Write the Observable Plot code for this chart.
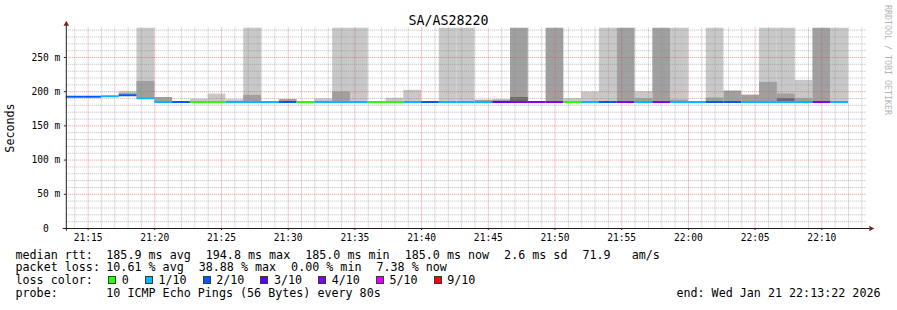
<!DOCTYPE html>
<html>
<head>
<meta charset="utf-8">
<script src="https://cdn.jsdelivr.net/npm/d3@7"></script>
<script src="https://cdn.jsdelivr.net/npm/@observablehq/plot@0.6"></script>
<style>
  html, body { margin: 0; padding: 0; background: #ffffff; }
  #wrap { position: relative; width: 897px; height: 310px; background: #ffffff; overflow: hidden;
          font-family: "DejaVu Sans Mono", monospace; color: #000; }
  #plot { position: absolute; left: 0; top: 0; }
  .abs { position: absolute; white-space: pre; }
  #title { left: 0; top: 14px; width: 897px; text-align: center; font-size: 13.3px; line-height: 13px; }
  #ylabel { left: 11.2px; top: 127.5px; font-size: 11.7px; line-height: 11.7px;
            transform: translate(-50%, -50%) rotate(-90deg); }
  #credit { left: 887.7px; top: 60px; font-size: 8.3px; line-height: 8.3px; color: #b4b4b4;
            transform: translate(-50%, -50%) rotate(90deg); }
  .lg { font-size: 11.7px; line-height: 12px; }
  .items { display: flex; gap: 15px; }
  .box { display: inline-block; width: 8px; height: 8px; box-sizing: border-box; border: 1px solid #3a3a3a; }
  .litem { position: absolute; display: flex; align-items: center; }
</style>
</head>
<body>
<div id="wrap">
  <div id="plot"></div>
</div>
<script>
// ---------------- data ----------------
const viewStart = "21:13:22";
const viewEnd = "22:13:22";
// step boundaries (80 s steps)
const boundaries = ["21:13:20","21:14:40","21:16:00","21:17:20","21:18:40","21:20:00","21:21:20","21:22:40","21:24:00","21:25:20","21:26:40","21:28:00","21:29:20","21:30:40","21:32:00","21:33:20","21:34:40","21:36:00","21:37:20","21:38:40","21:40:00","21:41:20","21:42:40","21:44:00","21:45:20","21:46:40","21:48:00","21:49:20","21:50:40","21:52:00","21:53:20","21:54:40","21:56:00","21:57:20","21:58:40","22:00:00","22:01:20","22:02:40","22:04:00","22:05:20","22:06:40","22:08:00","22:09:20","22:10:40","22:12:00"];
// median rtt per step (ms)
const medianMs = [192.7,192.7,193.4,194.8,190.5,185.0,185.0,185.0,185.0,185.0,
                  185.0,185.0,185.0,185.0,185.0,185.0,185.0,185.0,185.0,185.0,
                  185.0,185.0,185.0,185.0,185.0,185.0,185.0,185.0,185.0,185.0,
                  185.0,185.0,185.0,185.0,185.0,185.0,185.0,185.0,185.0,185.0,
                  185.0,185.0,185.0,185.0];
// loss colour level per step (index into lossLabels)
const lossLevel = [2,2,1,2,1,1,2,0,0,1,
                   1,1,2,0,1,1,1,0,0,1,
                   2,1,1,1,3,4,4,4,0,1,
                   2,4,1,4,1,1,2,2,1,1,
                   1,1,4,1];
const T = 293.1; // smoke that runs off the top of the graph
// smoke band tops (ms): outer (light), middle, inner (dark)
const smokeLight = [null,null,null,200,T,null,null,189,196.5,188.3,
                    T,null,null,null,189.5,T,T,null,190.5,202,
                    null,T,T,null,null,null,null,null,190,199.5,
                    T,null,200,null,T,null,T,null,null,T,
                    T,216.5,null,T];
const smokeMid = [null,null,null,197,215,191.5,null,null,null,null,
                  194.7,null,188.5,null,null,199.5,null,null,null,null,
                  null,null,null,187.5,188,T,null,T,null,null,
                  null,T,190,T,187.5,null,190.8,201,195,213.6,
                  196.6,190.3,T,null];
const smokeDark = [null,null,null,null,null,null,null,null,null,null,
                   null,null,null,null,null,null,null,null,null,null,
                   null,null,null,null,null,191.5,null,null,null,null,
                   null,null,null,null,null,null,null,null,null,null,
                   190,null,null,null];
const yTicks = [0, 50, 100, 150, 200, 250];
const lossLabels = ["0", "1/10", "2/10", "3/10", "4/10", "5/10", "9/10"];
const lossColors = ["#26ff00", "#00b8ff", "#0059ff", "#5e00ff", "#7e00ff", "#dd00ff", "#ff0000"];
const titleText = "SA/AS28220";
const yLabel = "Seconds";
const creditText = "RRDTOOL / TOBI OETIKER";
const rttLabel = "median rtt:";
const rttStats = ["185.9 ms avg", "194.8 ms max", "185.0 ms min", "185.0 ms now", "2.6 ms sd", "71.9   am/s"];
const lossLabel = "packet loss:";
const lossStats = ["10.61 % avg", "38.88 % max", "0.00 % min", "7.38 % now"];
const lossColorLabel = "loss color:";
const probeLabel = "probe:";
const probeText = "10 ICMP Echo Pings (56 Bytes) every 80s";
const endText = "end: Wed Jan 21 22:13:22 2026";

// ---------------- build ----------------
const parseT = s => new Date(`2026-01-21T${s}Z`);
const rows = medianMs.map((m, i) => ({
  t0: parseT(boundaries[i]), t1: parseT(boundaries[i + 1]),
  median: m, color: lossColors[lossLevel[i]],
  light: smokeLight[i], mid: smokeMid[i], dark: smokeDark[i]
}));
const xStart = parseT(viewStart), xEnd = parseT(viewEnd);
const yMax = T;

const allMinutes = d3.utcMinute.range(xStart, xEnd);
const majorX = allMinutes.filter(d => d.getUTCMinutes() % 5 === 0);
const minorX = allMinutes.filter(d => d.getUTCMinutes() % 5 !== 0);
const minorY = d3.range(10, yMax, 10).filter(v => v % 50 !== 0);
const majorY = yTicks.filter(v => v > 0);

const axisLines = [{x1: d3.utcSecond.offset(xStart, -14), x2: d3.utcSecond.offset(xEnd, 16), y: 0}];
const yAxisLine = [{x: xStart, y1: -4, y2: 301.5}];
const arrowUp = [{x: xStart, y: 298.6}];
const arrowRight = [{x: d3.utcSecond.offset(xEnd, 19), y: 0}];

const chart = Plot.plot({
  width: 897,
  height: 244,
  marginLeft: 65.8,
  marginRight: 30.8,
  marginTop: 27.5,
  marginBottom: 16,
  style: {fontFamily: '"DejaVu Sans Mono", monospace', fontSize: "9.6px", color: "#000", background: "transparent", overflow: "visible"},
  x: {type: "utc", domain: [xStart, xEnd]},
  y: {domain: [0, yMax]},
  marks: [
    Plot.rect(rows.filter(d => d.light != null), {x1: "t0", x2: "t1", y1: "median", y2: "light", fill: "#c8c8c8", inset: 0, clip: true}),
    Plot.rect(rows.filter(d => d.mid != null), {x1: "t0", x2: "t1", y1: "median", y2: "mid", fill: "#a0a0a0", inset: 0, clip: true}),
    Plot.rect(rows.filter(d => d.dark != null), {x1: "t0", x2: "t1", y1: "median", y2: "dark", fill: "#6a6a6a", inset: 0, clip: true}),
    Plot.gridX(minorX, {stroke: "#8f8f8f", strokeOpacity: 0.6, strokeDasharray: "1,1"}),
    Plot.gridY(minorY, {stroke: "#8f8f8f", strokeOpacity: 0.6, strokeDasharray: "1,1"}),
    Plot.gridX(majorX, {stroke: "#de4f4f", strokeOpacity: 0.6, strokeDasharray: "1,1"}),
    Plot.gridY(majorY, {stroke: "#de4f4f", strokeOpacity: 0.6, strokeDasharray: "1,1"}),
    Plot.ruleY(rows, {y: "median", x1: "t0", x2: "t1", stroke: "color", strokeWidth: 2, clip: true}),
    Plot.axisX(majorX, {tickFormat: d3.utcFormat("%H:%M"), tickSize: 2, tickPadding: 4, label: null, stroke: "#1f1f1f"}),
    Plot.axisY(yTicks, {tickFormat: d => d === 0 ? "0\u00a0\u00a0" : `${d} m`, tickSize: 2, tickPadding: 4, label: null, stroke: "#1f1f1f"}),
    Plot.ruleY(axisLines, {y: "y", x1: "x1", x2: "x2", stroke: "#1f1f1f"}),
    Plot.ruleX(yAxisLine, {x: "x", y1: "y1", y2: "y2", stroke: "#1f1f1f"}),
    Plot.dot(arrowUp, {x: "x", y: "y", symbol: "triangle", r: 2.1, fill: "#7f1f1f", stroke: null}),
    Plot.dot(arrowRight, {x: "x", y: "y", symbol: "triangle", r: 2.1, rotate: 90, fill: "#7f1f1f", stroke: null})
  ]
});

const wrap = document.getElementById("wrap");
document.getElementById("plot").appendChild(chart);

function addDiv(cls, id, text, css) {
  const d = document.createElement("div");
  d.className = cls;
  if (id) d.id = id;
  if (text != null) d.textContent = text;
  if (css) Object.assign(d.style, css);
  wrap.appendChild(d);
  return d;
}
addDiv("abs", "title", titleText);
addDiv("abs", "ylabel", yLabel);
addDiv("abs", "credit", creditText);

const rowTops = [248.8, 261.4, 274.0, 286.6];
const labelLeft = "15.5px";
const valueLeft = "106.3px";

// row 1: median rtt
addDiv("abs lg", null, rttLabel, {left: labelLeft, top: rowTops[0] + "px"});
const r1 = addDiv("abs lg items", null, null, {left: valueLeft, top: rowTops[0] + "px"});
rttStats.forEach(s => { const sp = document.createElement("span"); sp.textContent = s; sp.style.whiteSpace = "pre"; r1.appendChild(sp); });

// row 2: packet loss
addDiv("abs lg", null, lossLabel, {left: labelLeft, top: rowTops[1] + "px"});
const r2 = addDiv("abs lg items", null, null, {left: valueLeft, top: rowTops[1] + "px"});
lossStats.forEach(s => { const sp = document.createElement("span"); sp.textContent = s; sp.style.whiteSpace = "pre"; r2.appendChild(sp); });

// row 3: loss colours
addDiv("abs lg", null, lossColorLabel, {left: labelLeft, top: rowTops[2] + "px"});
const r3 = addDiv("abs lg", null, null, {left: "108.3px", top: rowTops[2] + "px", display: "flex", alignItems: "center", height: "12px"});
lossLabels.forEach((lab, i) => {
  const item = document.createElement("span");
  item.style.display = "inline-flex";
  item.style.alignItems = "center";
  item.style.marginRight = "16.1px";
  const b = document.createElement("span");
  b.className = "box";
  b.style.background = lossColors[i];
  b.style.position = "relative";
  b.style.top = "-0.5px";
  const t = document.createElement("span");
  t.textContent = lab;
  t.style.marginLeft = "5.5px";
  item.appendChild(b); item.appendChild(t);
  r3.appendChild(item);
});

// row 4: probe + end
addDiv("abs lg", null, probeLabel, {left: labelLeft, top: rowTops[3] + "px"});
addDiv("abs lg", null, probeText, {left: valueLeft, top: rowTops[3] + "px"});
addDiv("abs lg", null, endText, {right: "16.5px", top: rowTops[3] + "px"});
</script>
</body>
</html>
